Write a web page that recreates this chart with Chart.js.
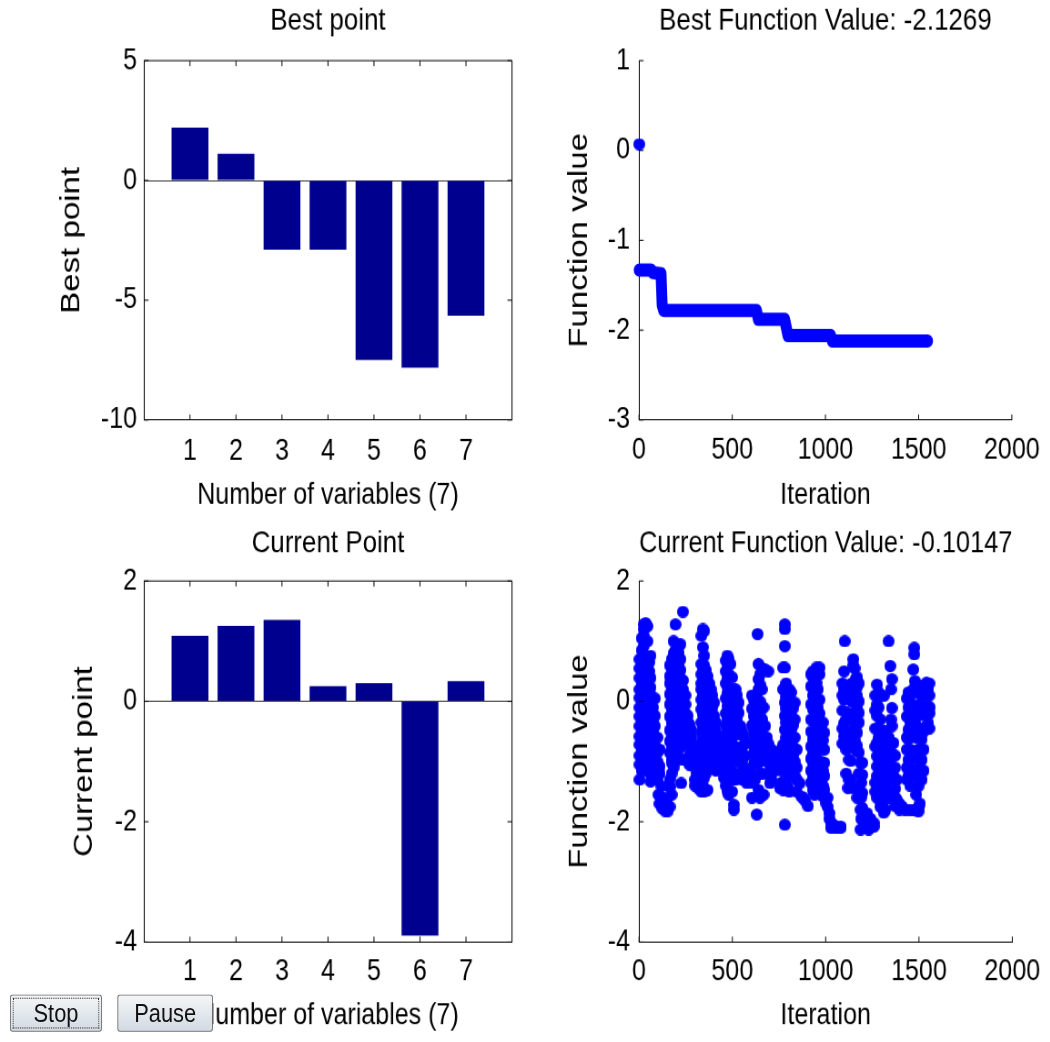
<!DOCTYPE html>
<html>
<head>
<meta charset="utf-8">
<title>Optimization progress</title>
<script src="https://cdn.jsdelivr.net/npm/chart.js@4.4.1/dist/chart.umd.min.js"></script>
<style>
  html, body { margin: 0; padding: 0; background: #fff; overflow: hidden; }
  /* the figure is laid out wide and then squeezed like the original screenshot */
  #page { position: absolute; left: 0; top: 0; width: 1154px; height: 947px;
          transform: scale(0.91, 1.1); transform-origin: 0 0; }
  #page canvas { position: absolute; }
  .btn { position: absolute; top: 904px; height: 34px; box-sizing: border-box;
         font: 24px "Liberation Sans", Arial, sans-serif; color: #111;
         background: linear-gradient(#f4f6f8, #d2dae3); border: 1px solid #707070;
         border-radius: 3px; padding: 0; z-index: 2; }
  #stop { left: 11px; width: 101px; outline: 1px dotted #333; outline-offset: -4px; }
  #pause { left: 129px; width: 105px; }
</style>
</head>
<body>
<div id="page">
  <canvas id="bestPointChart" width="577" height="473" style="left:0;top:0"></canvas>
  <canvas id="bestValueChart" width="577" height="473" style="left:577px;top:0"></canvas>
  <canvas id="currentPointChart" width="577" height="474" style="left:0;top:473px"></canvas>
  <canvas id="currentValueChart" width="577" height="474" style="left:577px;top:473px"></canvas>
  <button id="stop" class="btn">Stop</button>
  <button id="pause" class="btn">Pause</button>
</div>
<script>
// variables 1..7
let categories = [1, 2, 3, 4, 5, 6, 7];
let bestPoint = [2.2, 1.11, -2.89, -2.89, -7.5, -7.82, -5.65];
let currentPoint = [1.09, 1.255, 1.355, 0.255, 0.305, -3.89, 0.335];

// best function value: first sample, then the step path
let bestStart = [1, 0.07];
let bestIter = [1, 65, 75, 118, 124, 132, 630, 640, 781, 799, 1028, 1037, 1548];
let bestVal = [-1.33, -1.33, -1.36, -1.37, -1.72, -1.78, -1.78, -1.88, -1.88, -2.06, -2.06, -2.12, -2.12];

// current function value [iteration, value]
let curPoints = [
  // iterations 0 - 180
  [3,0.70],[3,0.55],[3,0.39],[3,0.20],[3,0.06],[3,-0.10],[3,-0.25],[3,-0.41],[3,-0.58],[3,-0.72],[3,-0.90],[3,-1.05],[3,-1.30],
  [14,1.05],[14,0.85],[14,0.62],[14,0.47],[14,0.30],[14,0.12],[14,-0.03],[14,-0.18],[14,-0.33],[14,-0.50],[14,-0.65],[14,-0.82],[14,-0.98],[14,-1.15],
  [25,1.28],[25,1.20],[25,1.09],[25,0.92],[25,0.57],[25,0.45],[25,0.30],[25,0.15],[25,-0.02],[25,-0.19],[25,-0.38],[25,-0.50],[25,-0.65],[25,-0.80],[25,-0.97],[25,-1.10],
  [35,1.30],[35,0.72],[35,0.20],[35,-0.10],[35,-0.30],[35,-0.45],[35,-0.60],[35,-0.75],[35,-0.90],[35,-1.05],
  [45,1.25],[45,1.00],[45,0.60],[45,0.30],[45,0.10],[45,-0.05],[45,-0.20],[45,-0.35],[45,-0.55],[45,-0.70],[45,-0.85],[45,-0.97],
  [55,0.65],[55,0.50],[55,0.15],[55,-0.12],[55,-0.30],[55,-0.47],[55,-0.65],[55,-0.82],[55,-1.00],[55,-1.18],
  [62,0.76],[62,0.39],[62,0.23],[62,0.10],[62,-0.02],[62,-0.19],[62,-0.40],[62,-0.58],[62,-0.75],[62,-0.90],[62,-1.10],[62,-1.33],
  [75,-0.10],[75,-0.33],[75,-0.50],[75,-0.66],[75,-0.82],[75,-1.00],[75,-1.10],[75,-1.28],
  [85,0.05],[85,-0.24],[85,-0.41],[85,-0.60],[85,-0.72],[85,-0.90],[85,-1.20],
  [98,-0.60],[98,-0.85],[98,-1.00],[98,-1.30],
  [111,-0.80],[111,-1.08],[111,-1.20],
  [105,-1.55],[110,-1.70],[120,-1.41],[125,-1.78],[135,-1.60],[140,-1.82],[150,-1.65],[155,-1.82],[160,-1.40],[165,-1.75],[175,-1.55],
  // iterations 160 - 290
  [165,0.60],[165,0.42],[165,0.30],[165,0.12],[165,-0.05],[165,-0.25],[165,-0.48],[165,-0.66],[165,-0.85],[165,-1.30],[165,-1.42],
  [175,0.70],[175,0.53],[175,0.22],[175,0.05],[175,-0.13],[175,-0.36],[175,-0.58],[175,-0.74],[175,-0.97],[175,-1.02],[175,-1.20],
  [185,1.00],[185,0.80],[185,0.62],[185,0.45],[185,0.30],[185,0.14],[185,-0.02],[185,-0.20],[185,-0.43],[185,-0.66],[185,-0.82],[185,-1.10],
  [195,1.28],[195,0.85],[195,0.73],[195,0.53],[195,0.37],[195,0.22],[195,0.05],[195,-0.10],[195,-0.25],[195,-0.36],[195,-0.50],[195,-0.58],[195,-0.74],[195,-0.91],[195,-1.00],
  [204,0.90],[204,0.68],[204,0.52],[204,0.37],[204,0.22],[204,0.07],[204,-0.08],[204,-0.22],[204,-0.38],[204,-0.52],[204,-0.68],[204,-0.85],
  [213,0.92],[213,0.80],[213,0.60],[213,0.45],[213,0.30],[213,0.15],[213,0.00],[213,-0.15],[213,-0.30],[213,-0.45],[213,-0.60],
  [222,0.95],[222,0.70],[222,0.52],[222,0.38],[222,0.22],[222,0.08],[222,-0.08],[222,-0.22],[222,-0.37],[222,-0.52],
  [235,1.49],[235,0.35],[235,0.20],[235,0.05],[235,-0.13],[235,-0.24],[235,-0.40],[235,-0.74],[235,-0.97],[226,-1.36],
  [248,0.10],[248,-0.05],[248,-0.20],[248,-0.35],[248,-0.45],[248,-0.62],
  [261,-0.24],[261,-0.35],[261,-0.50],
  [270,-0.38],[270,-0.55],[270,-0.70],[270,-0.90],[270,-1.05],
  [279,-0.47],[279,-0.60],[279,-0.74],[279,-0.85],
  // iterations 290 - 440
  [300,-0.75],[300,-0.95],[300,-1.10],[300,-1.30],[300,-1.40],
  [310,-0.85],[310,-1.00],[310,-1.20],
  [320,-0.72],[320,-0.90],[320,-1.05],[320,-1.20],[320,-1.35],[320,-1.45],
  [334,1.09],[334,0.62],[334,0.45],[334,0.30],[334,0.20],[334,0.03],[334,-0.13],[334,-0.35],[334,-0.52],[334,-0.72],[334,-1.08],[334,-1.27],[334,-1.50],
  [342,1.20],[342,0.90],[342,0.50],[342,0.35],[342,0.10],[342,-0.05],[342,-0.22],[342,-0.42],[342,-0.62],[342,-0.82],[342,-1.00],[342,-1.20],[342,-1.40],
  [349,1.17],[349,0.76],[349,0.60],[349,0.45],[349,0.20],[349,0.03],[349,-0.13],[349,-0.30],[349,-0.50],[349,-0.72],[349,-0.91],[349,-1.10],[349,-1.27],[349,-1.50],
  [358,0.52],[358,0.35],[358,0.10],[358,-0.07],[358,-0.25],[358,-0.40],[358,-0.55],[358,-0.80],[358,-1.05],[358,-1.20],
  [367,0.42],[367,0.30],[367,0.15],[367,0.00],[367,-0.20],[367,-0.47],[367,-0.60],[367,-0.97],[367,-1.47],
  [376,0.30],[376,0.10],[376,-0.10],[376,-0.32],[376,-0.55],[376,-0.70],[376,-0.90],
  [385,0.20],[385,0.00],[385,-0.24],[385,-0.40],[385,-0.74],[385,-0.86],[385,-1.00],
  [393,0.10],[393,-0.10],[393,-0.32],[393,-0.50],[393,-0.65],[393,-0.95],
  [402,-0.02],[402,-0.24],[402,-0.41],[402,-0.58],[402,-1.08],
  [412,-0.35],[412,-0.50],[412,-0.68],[412,-0.90],[412,-1.15],
  [420,-0.58],[420,-0.75],[420,-1.02],[429,-0.86],
  [440,-0.70],[440,-0.95],[440,-1.10],
  // iterations 450 - 580
  [455,-0.58],[455,-0.86],[455,-1.27],
  [465,0.68],[465,0.50],[465,0.30],[465,0.05],[465,-0.20],[465,-0.40],[465,-0.70],[465,-0.95],[465,-1.20],[465,-1.40],
  [473,0.76],[473,0.62],[473,0.39],[473,0.25],[473,0.14],[473,-0.08],[473,-0.30],[473,-0.50],[473,-1.13],[473,-1.49],
  [481,0.70],[481,0.45],[481,0.10],[481,-0.10],[481,-0.20],[481,-0.60],[481,-0.90],[481,-1.20],[481,-1.55],
  [490,0.62],[490,0.20],[490,-0.30],[490,-0.45],[490,-0.74],[490,-1.13],[490,-1.30],
  [499,0.40],[499,0.10],[499,-0.15],[499,-0.60],[499,-0.85],[499,-1.00],[499,-1.50],
  [508,0.20],[508,0.05],[508,-0.74],[508,-0.90],[508,-1.30],[508,-1.72],[508,-1.80],
  [517,0.20],[517,-1.30],
  [525,0.10],[525,-0.10],[525,-0.30],[525,-0.55],[525,-0.80],[525,-1.00],[525,-1.20],
  [534,-0.02],[534,-0.19],[534,-0.41],
  [543,-0.41],[543,-0.91],
  [552,-0.50],[552,-0.75],[552,-1.00],[552,-1.30],
  [561,-0.58],[561,-1.10],[570,-0.70],[570,-0.90],[570,-1.20],[578,-1.36],
  // iterations 590 - 740
  [596,-1.19],[605,-1.60],
  [605,0.10],[605,-0.12],[605,-0.40],[605,-0.70],[605,-1.35],
  [614,0.03],[614,-0.24],[614,-0.50],[614,-0.88],[614,-1.05],
  [622,-0.05],[622,-0.35],[622,-0.60],[622,-0.80],[622,-1.00],[622,-1.30],
  [631,0.10],[631,-0.69],[631,-1.88],[635,1.12],
  [640,0.62],[640,0.37],[640,0.20],[640,-0.10],[640,-1.02],[640,-1.47],
  [648,0.45],[648,0.28],[648,0.00],[648,-0.25],[648,-0.55],[648,-0.90],[648,-1.20],[648,-1.60],
  [658,0.20],[658,-0.45],[658,-1.20],
  [660,0.55],[660,-0.10],[660,-0.30],[660,-0.70],[660,-0.95],
  [667,-0.10],[667,-0.88],[667,-1.55],
  [676,0.53],[676,-0.41],[676,-0.80],
  [685,-0.60],[685,-0.85],[685,-1.00],[685,-1.20],
  [692,0.50],[692,-0.70],
  [702,-0.88],[702,-1.00],[702,-1.36],
  [710,-0.80],[710,-0.95],[710,-1.10],[710,-1.30],
  [720,-0.88],[720,-1.02],[730,-0.85],[730,-1.00],[730,-1.15],[740,-0.85],[740,-1.00],
  // iterations 750 - 910
  [755,-0.88],[755,-1.02],[755,-1.44],
  [763,-0.80],[763,-0.95],[763,-1.15],[763,-1.35],
  [772,0.56],[772,0.20],[772,-0.72],[772,-0.97],[772,-1.47],
  [781,1.28],[781,1.20],[781,0.92],[781,0.56],[781,0.20],[781,-0.02],[781,-0.24],[781,-0.47],[781,-0.72],[781,-1.02],[781,-2.05],
  [788,0.30],[788,0.08],[788,-0.12],[788,-0.35],[788,-0.60],[788,-0.85],[788,-1.10],[788,-1.30],
  [795,0.15],[795,-0.02],[795,-0.24],[795,-0.47],[795,-0.75],[795,-1.19],[795,-1.41],
  [805,0.20],[805,0.05],[805,-0.13],[805,-0.35],[805,-0.60],[805,-0.87],[805,-1.10],[805,-1.50],
  [815,0.15],[815,-0.02],[815,-0.24],[815,-0.47],[815,-0.75],[815,-1.00],
  [824,-0.12],[824,-0.40],[824,-0.75],[824,-0.90],[824,-1.15],
  [834,-0.02],[834,-0.30],[834,-0.60],[834,-1.00],[834,-1.24],
  [845,-0.80],[845,-1.10],[845,-1.30],[845,-1.50],
  [861,-1.36],[870,-1.58],[880,-1.60],[890,-1.65],[905,-1.74],
  // iterations 920 - 1080
  [921,0.45],[921,0.25],[921,-0.05],[921,-0.30],[921,-0.50],[921,-0.75],[921,-0.95],[921,-1.15],[921,-1.35],
  [931,0.50],[931,0.40],[931,0.10],[931,-0.13],[931,-0.30],[931,-0.63],[931,-0.86],[931,-1.02],[931,-1.24],[931,-1.47],
  [940,0.45],[940,0.20],[940,-0.05],[940,-0.30],[940,-0.55],[940,-0.78],[940,-0.95],[940,-1.15],[940,-1.35],[940,-1.55],
  [950,0.56],[950,0.31],[950,0.03],[950,-0.19],[950,-0.45],[950,-0.69],[950,-0.86],[950,-1.02],[950,-1.24],[950,-1.47],
  [958,0.20],[958,-0.10],[958,-0.35],[958,-0.60],[958,-0.80],
  [967,0.56],[967,0.45],[967,0.03],[967,-0.20],
  [975,-0.40],[975,-0.70],[975,-1.00],[975,-1.30],[975,-1.55],
  [985,-0.35],[985,-0.65],[985,-1.15],[985,-1.40],
  [993,-0.52],[993,-0.80],[993,-1.02],[993,-1.24],[993,-1.47],[993,-1.60],
  [1002,-1.69],[1010,-1.60],[1010,-1.75],[1020,-1.86],[1020,-1.95],[1028,-2.02],[1028,-2.10],[1040,-2.05],
  [1050,-2.10],[1050,-2.08],[1060,-2.08],[1070,-2.10],[1081,-2.08],[1081,-2.10],
  // iterations 1090 - 1260
  [1090,0.30],[1090,0.10],[1090,-0.15],[1090,-0.45],[1090,-0.70],
  [1099,0.50],[1099,0.20],[1099,0.03],[1099,-0.36],[1099,-0.58],[1102,1.00],
  [1110,0.05],[1110,-0.30],[1110,-0.50],[1110,-0.80],[1110,-1.20],
  [1120,0.20],[1120,-0.19],[1120,-0.69],[1120,-1.44],
  [1125,-0.97],[1125,-1.30],
  [1134,0.10],[1134,-0.50],[1134,-0.99],[1134,-1.30],
  [1140,0.30],[1140,0.00],[1140,-0.25],[1140,-0.70],
  [1148,0.70],[1148,0.60],[1150,-1.44],
  [1155,0.55],[1155,0.10],[1155,-0.20],[1155,-0.35],[1155,-0.65],
  [1160,0.37],[1160,0.20],[1160,-0.02],[1160,-0.41],[1160,-0.52],[1160,-0.80],
  [1169,0.40],[1169,0.25],[1169,0.09],[1169,-0.13],[1169,-0.36],[1169,-0.52],[1169,-0.74],[1169,-1.60],
  [1178,0.30],[1178,0.00],[1178,-0.19],[1178,-0.35],[1178,-0.85],[1178,-1.20],[1178,-1.52],
  [1187,-1.02],[1187,-1.80],[1187,-2.13],
  [1190,-1.35],[1190,-1.60],[1190,-1.95],
  [1196,-1.02],[1196,-1.22],[1196,-1.52],[1196,-1.77],
  [1204,-2.02],[1212,-1.90],[1212,-2.08],[1222,-1.86],[1222,-2.05],[1230,-2.13],[1240,-2.05],[1240,-1.95],[1258,-2.02],[1258,-2.08],
  // iterations 1260 - 1420
  [1266,0.10],[1266,-0.15],[1266,-0.45],[1266,-0.75],[1266,-1.35],[1266,-1.50],
  [1275,0.28],[1275,-0.05],[1275,-0.24],[1275,-0.69],[1275,-0.91],[1275,-1.08],[1275,-1.24],[1275,-1.60],
  [1284,0.15],[1284,-0.10],[1284,-0.60],[1284,-0.95],[1284,-1.30],[1284,-1.60],
  [1293,-0.30],[1293,-0.47],[1293,-0.80],[1293,-1.13],[1293,-1.47],[1293,-1.75],
  [1302,-0.50],[1302,-0.70],[1302,-1.05],[1302,-1.40],[1302,-1.70],
  [1311,0.09],[1311,-0.60],[1311,-0.91],[1311,-1.24],[1311,-1.63],[1311,-1.85],
  [1320,-0.50],[1320,-0.80],[1320,-1.00],[1320,-1.35],[1320,-1.55],[1320,-1.80],
  [1328,-0.69],[1328,-1.10],[1328,-1.47],
  [1337,1.00],[1338,-0.60],[1338,-0.80],[1338,-1.30],[1338,-1.60],
  [1346,0.59],[1346,-0.95],[1346,-1.20],
  [1350,0.20],[1350,-0.30],[1350,-0.85],
  [1355,0.37],[1355,-0.11],[1355,-0.41],[1355,-0.69],
  [1363,-0.69],[1363,-1.24],[1363,-1.50],
  [1372,-0.90],[1372,-1.10],[1372,-1.45],[1372,-1.60],[1372,-1.74],
  [1381,-1.30],[1381,-1.63],[1395,-1.70],[1395,-1.80],[1410,-1.75],[1425,-1.80],[1450,-1.80],[1469,-1.80],
  // iterations 1430 - 1560
  [1435,0.05],[1435,-0.25],[1435,-0.60],[1435,-0.80],[1435,-1.10],[1435,-1.30],
  [1443,0.15],[1443,-0.10],[1443,-0.47],[1443,-0.63],[1443,-0.97],[1443,-1.24],
  [1452,0.00],[1452,-0.35],[1452,-0.80],[1452,-0.97],[1452,-1.20],[1452,-1.40],
  [1460,-0.19],[1460,-1.13],
  [1469,0.53],[1469,0.20],[1469,-0.47],
  [1475,0.89],[1475,0.78],[1478,0.34],
  [1485,0.15],[1485,-0.10],[1485,-0.40],[1485,-0.60],[1485,-0.95],[1485,-1.25],[1485,-1.55],
  [1496,-0.24],[1496,-0.80],[1496,-1.13],[1496,-1.41],[1496,-1.77],[1496,-1.83],
  [1505,0.25],[1505,-0.05],[1505,-0.45],[1505,-0.80],[1505,-1.10],[1505,-1.70],
  [1515,0.09],[1515,-0.63],[1515,-0.97],[1515,-1.30],
  [1525,0.20],[1525,-0.20],[1525,-0.50],[1525,-0.80],[1525,-1.15],
  [1540,0.31],[1540,-0.08],[1540,-0.24],
  [1549,0.20],[1549,-0.08],[1549,-0.36],
  [1555,0.30],[1555,0.10],[1555,-0.20],[1555,-0.45],[1558,-0.10]
];

let iterTicks = [0, 500, 1000, 1500, 2000];

const FONT = '"Liberation Sans", Arial, sans-serif';
const TEXT = 27.5;
const TITLE = 28.5;
const YLAB = 30;
const BAR = '#00008f';
const DOT = '#0000ff';

function font(size) {
  return { family: FONT, size: size, weight: 'normal', lineHeight: 1.2 };
}

// round marker drawn a bit wide so it stays round after the page squeeze
function makeDot(color) {
  let c = document.createElement('canvas');
  c.width = 13;
  c.height = 11;
  let g = c.getContext('2d');
  g.fillStyle = color;
  g.beginPath();
  g.ellipse(6.5, 5.5, 6.5, 5.5, 0, 0, Math.PI * 2);
  g.fill();
  return c;
}

// inward ticks like matlab axes, plus top/right edges when box is on
const matlabAxes = {
  id: 'matlabAxes',
  afterDatasetsDraw(chart, args, opts) {
    let { ctx, chartArea: a, scales: { x, y } } = chart;
    let len = 5;
    ctx.save();
    ctx.strokeStyle = '#000';
    ctx.lineWidth = 1;
    ctx.beginPath();
    x.ticks.forEach(t => {
      let px = x.getPixelForValue(t.value);
      ctx.moveTo(px, a.bottom);
      ctx.lineTo(px, a.bottom - len);
      if (opts.box) {
        ctx.moveTo(px, a.top);
        ctx.lineTo(px, a.top + len);
      }
    });
    y.ticks.forEach(t => {
      let py = y.getPixelForValue(t.value);
      ctx.moveTo(a.left, py);
      ctx.lineTo(a.left + len, py);
      if (opts.box) {
        ctx.moveTo(a.right, py);
        ctx.lineTo(a.right - len, py);
      }
    });
    if (opts.box) {
      ctx.moveTo(a.left, a.top);
      ctx.lineTo(a.right, a.top);
      ctx.lineTo(a.right, a.bottom);
    }
    ctx.stroke();
    ctx.restore();
  }
};

// shared layout for one panel
function panelOptions(p) {
  return {
    responsive: false,
    animation: false,
    events: [],
    layout: { padding: { left: 0, right: p.rightPad, top: 0, bottom: 0 } },
    plugins: {
      legend: { display: false },
      tooltip: { enabled: false },
      title: {
        display: true, text: p.title, color: '#000', font: font(TITLE),
        fullSize: false, padding: { top: p.titleTop, bottom: p.titleBottom }
      },
      matlabAxes: { box: p.box }
    },
    scales: {
      x: {
        type: 'linear', min: p.xMin, max: p.xMax, offset: false,
        afterBuildTicks: s => { s.ticks = p.xTicks.map(v => ({ value: v })); },
        afterFit: s => { s.height = p.xHeight; },
        ticks: {
          color: '#000', font: font(TEXT), padding: p.xTickPad, maxRotation: 0, autoSkip: false,
          callback: v => String(v)
        },
        grid: { display: false, drawTicks: false, offset: false },
        border: { display: true, color: '#000', width: 1 },
        title: { display: true, text: p.xTitle, color: '#000', font: font(TEXT), padding: { top: 0, bottom: p.xTitlePad } }
      },
      y: {
        min: p.yMin, max: p.yMax,
        afterFit: s => { s.width = p.yWidth; },
        ticks: { stepSize: p.yStep, color: '#000', font: font(TEXT), padding: p.yTickPad, callback: v => String(v) },
        grid: {
          display: p.box, drawTicks: false,
          color: c => (c.tick && c.tick.value === 0) ? '#3c3c3c' : 'rgba(0,0,0,0)'
        },
        border: { display: true, color: '#000', width: 1 },
        title: { display: true, text: p.yTitle, color: '#000', font: font(YLAB), padding: { top: p.yTitlePad, bottom: 0 } }
      }
    }
  };
}

function barPanel(id, values, p) {
  let data = categories.map((c, i) => ({ x: c, y: values[i] }));
  p.box = true;
  p.xMin = 0;
  p.xMax = 8;
  p.xTicks = categories;
  p.xTitle = 'Number of variables (7)';
  p.rightPad = 14.4;
  p.yWidth = 158.2;
  p.yTickPad = 7.7;
  new Chart(document.getElementById(id), {
    type: 'bar',
    data: {
      datasets: [{
        data: data,
        backgroundColor: BAR,
        borderWidth: 0,
        barPercentage: 0.8,
        categoryPercentage: 1.0
      }]
    },
    options: panelOptions(p),
    plugins: [matlabAxes]
  });
}

function valuePanel(id, datasets, p) {
  p.box = false;
  p.xMin = 0;
  p.xMax = 2000;
  p.xTicks = iterTicks;
  p.xTitle = 'Iteration';
  p.yTitle = 'Function value';
  p.rightPad = 36.4;
  p.yWidth = 125.2;
  p.yTickPad = 10;
  p.yTitlePad = 42;
  new Chart(document.getElementById(id), {
    type: 'scatter',
    data: { datasets: datasets },
    options: panelOptions(p),
    plugins: [matlabAxes]
  });
}

let dot = makeDot(DOT);

barPanel('bestPointChart', bestPoint, {
  title: 'Best point', yTitle: 'Best point',
  yMin: -10, yMax: 5, yStep: 5,
  titleTop: 1.9, titleBottom: 19.0,
  xHeight: 91.2, xTickPad: 12.3, xTitlePad: 5.8, yTitlePad: 60.8
});

barPanel('currentPointChart', currentPoint, {
  title: 'Current Point', yTitle: 'Current point',
  yMin: -4, yMax: 2, yStep: 2,
  titleTop: 3.9, titleBottom: 17.1,
  xHeight: 90.6, xTickPad: 11, xTitlePad: 7, yTitlePad: 74.8
});

valuePanel('bestValueChart', [
  {
    data: [{ x: bestStart[0], y: bestStart[1] }],
    pointStyle: dot, pointRadius: 6, clip: false
  },
  {
    data: bestIter.map((it, i) => ({ x: it, y: bestVal[i] })),
    showLine: true, borderColor: DOT, borderWidth: 12,
    borderCapStyle: 'round', borderJoinStyle: 'round',
    pointRadius: 0, clip: false
  }
], {
  title: 'Best Function Value: -2.1269',
  yMin: -3, yMax: 1, yStep: 1,
  titleTop: 1.9, titleBottom: 19.0,
  xHeight: 91.2, xTickPad: 11.5, xTitlePad: 5.8
});

valuePanel('currentValueChart', [
  {
    data: curPoints.map(p => ({ x: p[0], y: p[1] })),
    pointStyle: dot, pointRadius: 6, clip: false
  }
], {
  title: 'Current Function Value: -0.10147',
  yMin: -4, yMax: 2, yStep: 2,
  titleTop: 3.9, titleBottom: 17.1,
  xHeight: 90.6, xTickPad: 11, xTitlePad: 7
});
</script>
</body>
</html>
